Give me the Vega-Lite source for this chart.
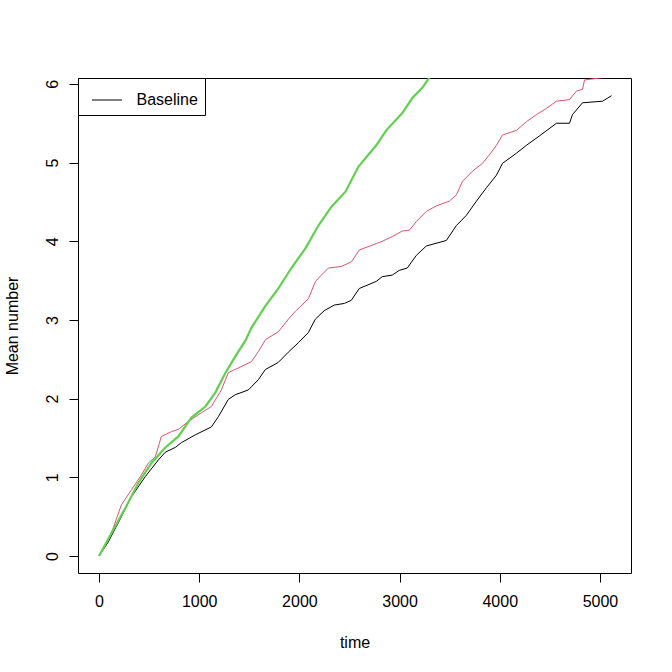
{
  "$schema": "https://vega.github.io/schema/vega-lite/v6.json",
  "width": 553,
  "height": 495,
  "autosize": {"type": "none"},
  "padding": {"left": 78, "top": 78, "right": 41, "bottom": 99},
  "background": "white",
  "config": {
    "font": "Liberation Sans",
    "view": {"stroke": "black", "strokeWidth": 1},
    "axis": {"labelFont": "Liberation Sans", "titleFont": "Liberation Sans", "labelFontSize": 16, "titleFontSize": 16, "titleFontWeight": "normal", "labelColor": "black", "titleColor": "black", "tickColor": "black", "domain": false, "grid": false, "tickSize": 9}
  },
  "datasets": {
    "series": [
      {"time": 0, "value": 0, "series": "Baseline"},
      {"time": 93, "value": 0.18, "series": "Baseline"},
      {"time": 223, "value": 0.5, "series": "Baseline"},
      {"time": 322, "value": 0.75, "series": "Baseline"},
      {"time": 462, "value": 1.01, "series": "Baseline"},
      {"time": 592, "value": 1.22, "series": "Baseline"},
      {"time": 662, "value": 1.32, "series": "Baseline"},
      {"time": 761, "value": 1.38, "series": "Baseline"},
      {"time": 821, "value": 1.44, "series": "Baseline"},
      {"time": 961, "value": 1.54, "series": "Baseline"},
      {"time": 1121, "value": 1.64, "series": "Baseline"},
      {"time": 1191, "value": 1.77, "series": "Baseline"},
      {"time": 1290, "value": 1.99, "series": "Baseline"},
      {"time": 1360, "value": 2.05, "series": "Baseline"},
      {"time": 1490, "value": 2.11, "series": "Baseline"},
      {"time": 1590, "value": 2.24, "series": "Baseline"},
      {"time": 1660, "value": 2.37, "series": "Baseline"},
      {"time": 1789, "value": 2.46, "series": "Baseline"},
      {"time": 1889, "value": 2.59, "series": "Baseline"},
      {"time": 1989, "value": 2.71, "series": "Baseline"},
      {"time": 2089, "value": 2.84, "series": "Baseline"},
      {"time": 2159, "value": 3.01, "series": "Baseline"},
      {"time": 2250, "value": 3.12, "series": "Baseline"},
      {"time": 2350, "value": 3.19, "series": "Baseline"},
      {"time": 2450, "value": 3.21, "series": "Baseline"},
      {"time": 2518, "value": 3.25, "series": "Baseline"},
      {"time": 2598, "value": 3.4, "series": "Baseline"},
      {"time": 2767, "value": 3.49, "series": "Baseline"},
      {"time": 2827, "value": 3.55, "series": "Baseline"},
      {"time": 2927, "value": 3.57, "series": "Baseline"},
      {"time": 2997, "value": 3.63, "series": "Baseline"},
      {"time": 3077, "value": 3.66, "series": "Baseline"},
      {"time": 3167, "value": 3.82, "series": "Baseline"},
      {"time": 3267, "value": 3.94, "series": "Baseline"},
      {"time": 3467, "value": 4.01, "series": "Baseline"},
      {"time": 3567, "value": 4.2, "series": "Baseline"},
      {"time": 3667, "value": 4.33, "series": "Baseline"},
      {"time": 3767, "value": 4.51, "series": "Baseline"},
      {"time": 3867, "value": 4.68, "series": "Baseline"},
      {"time": 3967, "value": 4.84, "series": "Baseline"},
      {"time": 4027, "value": 4.99, "series": "Baseline"},
      {"time": 4167, "value": 5.12, "series": "Baseline"},
      {"time": 4267, "value": 5.22, "series": "Baseline"},
      {"time": 4397, "value": 5.34, "series": "Baseline"},
      {"time": 4566, "value": 5.5, "series": "Baseline"},
      {"time": 4696, "value": 5.5, "series": "Baseline"},
      {"time": 4726, "value": 5.61, "series": "Baseline"},
      {"time": 4826, "value": 5.76, "series": "Baseline"},
      {"time": 5026, "value": 5.78, "series": "Baseline"},
      {"time": 5116, "value": 5.85, "series": "Baseline"},

      {"time": 0, "value": 0, "series": "Scenario 2"},
      {"time": 123, "value": 0.29, "series": "Scenario 2"},
      {"time": 223, "value": 0.65, "series": "Scenario 2"},
      {"time": 323, "value": 0.84, "series": "Scenario 2"},
      {"time": 423, "value": 1.03, "series": "Scenario 2"},
      {"time": 492, "value": 1.18, "series": "Scenario 2"},
      {"time": 562, "value": 1.26, "series": "Scenario 2"},
      {"time": 622, "value": 1.52, "series": "Scenario 2"},
      {"time": 722, "value": 1.58, "series": "Scenario 2"},
      {"time": 792, "value": 1.61, "series": "Scenario 2"},
      {"time": 891, "value": 1.71, "series": "Scenario 2"},
      {"time": 1021, "value": 1.82, "series": "Scenario 2"},
      {"time": 1121, "value": 1.9, "series": "Scenario 2"},
      {"time": 1221, "value": 2.11, "series": "Scenario 2"},
      {"time": 1291, "value": 2.33, "series": "Scenario 2"},
      {"time": 1391, "value": 2.39, "series": "Scenario 2"},
      {"time": 1521, "value": 2.47, "series": "Scenario 2"},
      {"time": 1591, "value": 2.6, "series": "Scenario 2"},
      {"time": 1661, "value": 2.75, "series": "Scenario 2"},
      {"time": 1790, "value": 2.85, "series": "Scenario 2"},
      {"time": 1890, "value": 3.01, "series": "Scenario 2"},
      {"time": 1960, "value": 3.11, "series": "Scenario 2"},
      {"time": 2090, "value": 3.27, "series": "Scenario 2"},
      {"time": 2160, "value": 3.49, "series": "Scenario 2"},
      {"time": 2220, "value": 3.57, "series": "Scenario 2"},
      {"time": 2290, "value": 3.66, "series": "Scenario 2"},
      {"time": 2420, "value": 3.68, "series": "Scenario 2"},
      {"time": 2520, "value": 3.74, "series": "Scenario 2"},
      {"time": 2598, "value": 3.89, "series": "Scenario 2"},
      {"time": 2767, "value": 3.97, "series": "Scenario 2"},
      {"time": 2827, "value": 4.0, "series": "Scenario 2"},
      {"time": 2927, "value": 4.06, "series": "Scenario 2"},
      {"time": 3027, "value": 4.13, "series": "Scenario 2"},
      {"time": 3097, "value": 4.14, "series": "Scenario 2"},
      {"time": 3167, "value": 4.25, "series": "Scenario 2"},
      {"time": 3267, "value": 4.38, "series": "Scenario 2"},
      {"time": 3367, "value": 4.45, "series": "Scenario 2"},
      {"time": 3497, "value": 4.51, "series": "Scenario 2"},
      {"time": 3567, "value": 4.59, "series": "Scenario 2"},
      {"time": 3627, "value": 4.76, "series": "Scenario 2"},
      {"time": 3727, "value": 4.89, "series": "Scenario 2"},
      {"time": 3827, "value": 4.99, "series": "Scenario 2"},
      {"time": 3897, "value": 5.1, "series": "Scenario 2"},
      {"time": 3967, "value": 5.22, "series": "Scenario 2"},
      {"time": 4027, "value": 5.35, "series": "Scenario 2"},
      {"time": 4167, "value": 5.41, "series": "Scenario 2"},
      {"time": 4267, "value": 5.52, "series": "Scenario 2"},
      {"time": 4367, "value": 5.61, "series": "Scenario 2"},
      {"time": 4467, "value": 5.69, "series": "Scenario 2"},
      {"time": 4566, "value": 5.78, "series": "Scenario 2"},
      {"time": 4696, "value": 5.8, "series": "Scenario 2"},
      {"time": 4766, "value": 5.91, "series": "Scenario 2"},
      {"time": 4826, "value": 5.93, "series": "Scenario 2"},
      {"time": 4846, "value": 6.05, "series": "Scenario 2"},
      {"time": 5026, "value": 6.08, "series": "Scenario 2"},
      {"time": 5100, "value": 6.15, "series": "Scenario 2"},

      {"time": 0, "value": 0, "series": "Scenario 3"},
      {"time": 123, "value": 0.29, "series": "Scenario 3"},
      {"time": 263, "value": 0.61, "series": "Scenario 3"},
      {"time": 393, "value": 0.93, "series": "Scenario 3"},
      {"time": 522, "value": 1.18, "series": "Scenario 3"},
      {"time": 662, "value": 1.38, "series": "Scenario 3"},
      {"time": 792, "value": 1.52, "series": "Scenario 3"},
      {"time": 922, "value": 1.76, "series": "Scenario 3"},
      {"time": 1062, "value": 1.9, "series": "Scenario 3"},
      {"time": 1162, "value": 2.08, "series": "Scenario 3"},
      {"time": 1262, "value": 2.33, "series": "Scenario 3"},
      {"time": 1362, "value": 2.54, "series": "Scenario 3"},
      {"time": 1462, "value": 2.74, "series": "Scenario 3"},
      {"time": 1521, "value": 2.9, "series": "Scenario 3"},
      {"time": 1661, "value": 3.18, "series": "Scenario 3"},
      {"time": 1790, "value": 3.4, "series": "Scenario 3"},
      {"time": 1920, "value": 3.66, "series": "Scenario 3"},
      {"time": 2060, "value": 3.91, "series": "Scenario 3"},
      {"time": 2190, "value": 4.2, "series": "Scenario 3"},
      {"time": 2320, "value": 4.44, "series": "Scenario 3"},
      {"time": 2460, "value": 4.63, "series": "Scenario 3"},
      {"time": 2590, "value": 4.95, "series": "Scenario 3"},
      {"time": 2767, "value": 5.22, "series": "Scenario 3"},
      {"time": 2867, "value": 5.41, "series": "Scenario 3"},
      {"time": 3027, "value": 5.63, "series": "Scenario 3"},
      {"time": 3127, "value": 5.82, "series": "Scenario 3"},
      {"time": 3227, "value": 5.95, "series": "Scenario 3"},
      {"time": 3297, "value": 6.08, "series": "Scenario 3"},
      {"time": 3350, "value": 6.2, "series": "Scenario 3"}
    ]
  },
  "data": {"name": "series"},
  "mark": {"type": "line", "clip": true, "interpolate": "linear"},
  "encoding": {
    "x": {
      "field": "time", "type": "quantitative",
      "scale": {"domain": [-210, 5310], "nice": false, "zero": false},
      "axis": {"title": "time", "values": [0, 1000, 2000, 3000, 4000, 5000], "format": "d", "labelPadding": 11, "titleY": 74, "titleBaseline": "alphabetic"}
    },
    "y": {
      "field": "value", "type": "quantitative",
      "scale": {"domain": [-0.216, 6.075], "nice": false, "zero": false},
      "axis": {"title": "Mean number", "values": [0, 1, 2, 3, 4, 5, 6], "labelAngle": -90, "labelAlign": "center", "labelBaseline": "alphabetic", "labelPadding": 12, "titleX": -61, "titleBaseline": "alphabetic"}
    },
    "color": {
      "field": "series", "type": "nominal",
      "scale": {"domain": ["Baseline", "Scenario 2", "Scenario 3"], "range": ["#000000", "#DF536B", "#61D04F"]},
      "legend": {
        "title": null, "values": ["Baseline"], "orient": "top-left", "offset": 0,
        "symbolType": "stroke", "symbolSize": 900, "symbolStrokeWidth": 1,
        "labelFontSize": 16, "labelFont": "Liberation Sans", "labelColor": "black", "labelOffset": 14,
        "padding": 6.5, "symbolOffset": 7, "strokeColor": "black", "fillColor": "white", "cornerRadius": 0
      }
    },
    "strokeWidth": {
      "condition": {"test": "datum.series === 'Scenario 3'", "value": 2.2},
      "value": 1
    },
    "order": {"field": "time", "type": "quantitative"}
  }
}
